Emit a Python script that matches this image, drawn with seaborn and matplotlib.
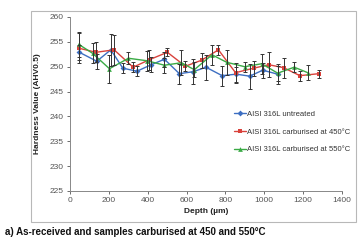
import matplotlib
matplotlib.use("Agg")
import matplotlib.pyplot as plt
import seaborn as sns
import pandas as pd
from matplotlib.lines import Line2D
from matplotlib.patches import Rectangle

sns.set_theme(style="white")
plt.rcParams['font.family'] = ['Liberation Sans', 'DejaVu Sans']

labels = ["AISI 316L untreated", "AISI 316L carburised at 450°C", "AISI 316L carburised at 550°C"]

depth_untreated = [48, 138, 210, 272, 345, 418, 486, 563, 635, 700, 783, 855, 925, 992, 1069]
hv_untreated = [252.9, 251.1, 253.4, 249.7, 249.1, 250.4, 251.5, 248.6, 249.0, 249.9, 248.2, 248.5, 248.1, 249.3, 248.5]
err_untreated = [1.5, 1.5, 3.2, 1.0, 1.0, 1.5, 1.5, 2.0, 2.5, 2.5, 2.0, 1.5, 2.5, 1.5, 2.0]

depth_450 = [48, 134, 227, 325, 408, 501, 594, 677, 764, 852, 945, 1023, 1100, 1183, 1281]
hv_450 = [253.7, 252.9, 253.4, 249.9, 251.4, 252.9, 250.1, 251.3, 253.4, 248.8, 249.7, 250.4, 249.8, 248.2, 248.6]
err_450 = [3.0, 2.0, 3.0, 1.0, 2.0, 0.8, 1.0, 1.5, 1.0, 2.0, 1.5, 2.5, 2.0, 1.0, 0.8]

depth_550 = [45, 116, 203, 301, 396, 486, 573, 640, 731, 806, 899, 987, 1069, 1154, 1224]
hv_550 = [254.5, 252.7, 249.6, 251.7, 251.2, 250.3, 250.8, 249.4, 252.4, 250.9, 250.0, 250.6, 248.7, 249.9, 248.8]
err_550 = [2.5, 2.0, 2.8, 1.2, 2.0, 1.5, 2.5, 1.5, 2.0, 2.5, 1.0, 2.0, 1.5, 1.0, 1.5]

xticks = [0, 200, 400, 600, 800, 1000, 1200, 1400]
yticks = [225, 230, 235, 240, 245, 250, 255, 260]

series = [
    (depth_untreated, hv_untreated, err_untreated, "#3d6fc2", "D", 3.0),
    (depth_450, hv_450, err_450, "#d9423c", "s", 3.2),
    (depth_550, hv_550, err_550, "#3aaa45", "^", 3.4),
]

fig = plt.figure(figsize=(3.64, 2.40), dpi=100)
fig.patches.append(Rectangle((31/364, 18/240), 325/364, 211/240, transform=fig.transFigure,
                             fill=False, edgecolor="#b8b8b8", linewidth=0.8))
ax = fig.add_axes([70/364, 49/240, 272/364, 174/240])

handles = []
for (d, v, e, c, m, ms), lab in zip(series, labels):
    df = pd.DataFrame({"Depth": d, "HV": v})
    sns.lineplot(data=df, x="Depth", y="HV", ax=ax, color=c, marker=m, markersize=ms,
                 markeredgewidth=0, linewidth=1.0, sort=False, zorder=3)
    ax.errorbar(d, v, yerr=e, fmt="none", ecolor="#333333", elinewidth=0.7, capsize=1.5,
                capthick=0.7, zorder=4)
    handles.append(Line2D([0], [0], color=c, marker=m, markersize=ms, markeredgewidth=0,
                          linewidth=1.0, label=lab))

ax.set_xlim(0, 1400)
ax.set_ylim(225, 260)
ax.set_xticks(xticks)
ax.set_yticks(yticks)
ax.tick_params(axis="both", labelsize=6, colors="#555555", length=2.5, width=0.6,
               direction="out", pad=2, bottom=True, left=True)
for s in ["top", "right"]:
    ax.spines[s].set_visible(False)
for s in ["left", "bottom"]:
    ax.spines[s].set_color("#888888")
    ax.spines[s].set_linewidth(0.7)
ax.set_xlabel("Depth (µm)", fontsize=6, fontweight="bold", color="#222222", labelpad=3)
ax.set_ylabel("Hardness Value (AHV0.5)", fontsize=6, fontweight="bold", color="#222222", labelpad=6)

leg = ax.legend(handles=handles, loc="upper left", bbox_to_anchor=(0.59, 0.48), frameon=False,
                fontsize=5.5, handlelength=1.6, handletextpad=0.2, labelspacing=1.36,
                borderaxespad=0)
for t in leg.get_texts():
    t.set_color("#333333")

fig.text(5/364, 1 - 232/240, "a) As-received and samples carburised at 450 and 550°C",
         fontsize=7, fontweight="bold", color="#111111", va="center", ha="left")

fig.savefig("out.png", dpi=100)
